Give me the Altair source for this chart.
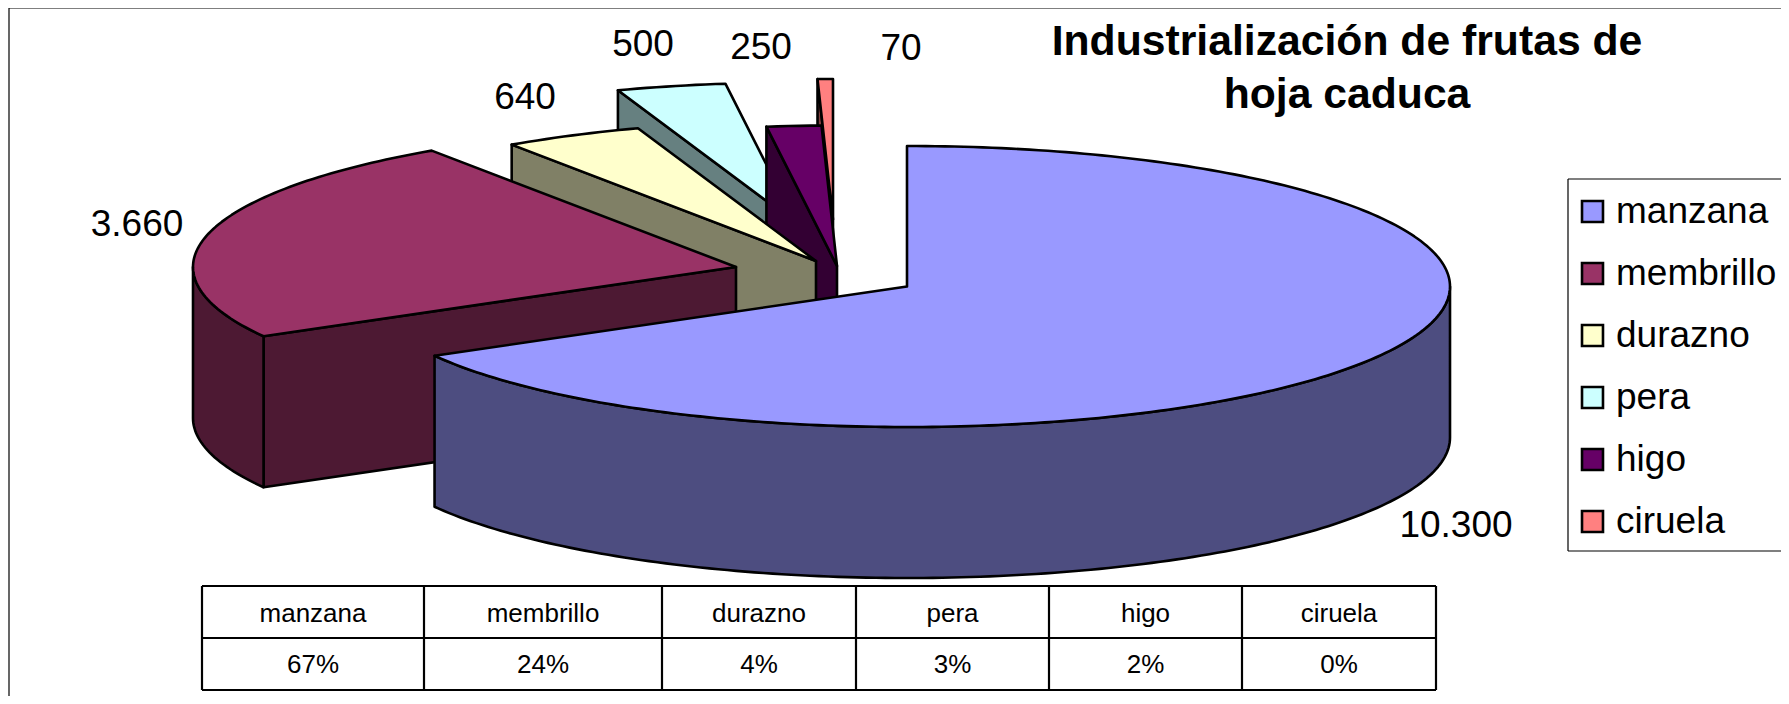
import math
import altair as alt

W, H = 1773, 688
OX, OY = 8, 8  # page margin

names = ["manzana", "membrillo", "durazno", "pera", "higo", "ciruela"]
values = [10300, 3660, 640, 500, 250, 70]
value_labels = ["10.300", "3.660", "640", "500", "250", "70"]
percent_labels = ["67%", "24%", "4%", "3%", "2%", "0%"]
top_colors = ["#9999FF", "#993366", "#FFFFCC", "#CCFFFF", "#660066", "#FF8080"]
wall_colors = ["#4D4D80", "#4D1933", "#808066", "#668080", "#330033", "#804040"]

# layout of the exploded pie (page pixels)
apex_x = [907, 736, 816, 796, 837, 833]
apex_y = [286.5, 267, 261, 223, 266, 219.5]
RX, RY, DEPTH = 543, 140.5, 151
draw_order = ["ciruela", "pera", "higo", "durazno", "membrillo", "manzana"]

label_x = [1456, 137, 525, 643, 761, 901]
label_y = [526, 225, 98, 44.5, 48, 49]

table_edges = [202, 424, 662, 856, 1049, 1242, 1436]
table_rows = [586, 638, 690]
table_text_y = [614, 665]

title_lines = ["Industrialización de frutas de", "hoja caduca"]
title_x = 1347
title_y = [42, 95]

total = sum(values)
spans = [v / total * 360 for v in values]
starts = [sum(spans[:i]) for i in range(len(spans))]


def pt(i, deg, drop=0):
    a = math.radians(deg)
    return [apex_x[i] - OX + RX * math.sin(a),
            apex_y[i] - OY - RY * math.cos(a) + drop]


def feature(key, ring):
    ring = ring + [ring[0]]
    return {"type": "Feature", "properties": {"key": key},
            "geometry": {"type": "Polygon", "coordinates": [ring]}}


def arc(i, a0, a1, drop=0):
    n = max(2, int(abs(a1 - a0)) + 1)
    return [pt(i, a0 + (a1 - a0) * k / (n - 1), drop) for k in range(n)]


features = []
for name in draw_order:
    i = names.index(name)
    a0, a1 = starts[i], starts[i] + spans[i]
    ax, ay = apex_x[i] - OX, apex_y[i] - OY
    # radial front wall on the starting edge (not for the first slice)
    if i > 0:
        p = pt(i, a0)
        features.append(feature(name + " lado", [
            [ax, ay], p, [p[0], p[1] + DEPTH], [ax, ay + DEPTH]]))
    # outer rim, visible on the lower half of the ellipse
    lo, hi = max(a0, 90), min(a1, 270)
    if lo < hi:
        features.append(feature(name + " lado",
                                arc(i, lo, hi) + arc(i, hi, lo, DEPTH)))
    features.append(feature(name, [[ax, ay]] + arc(i, a0, a1)))

domain = names + [n + " lado" for n in names]
colors = top_colors + wall_colors

pie = alt.Chart(alt.Data(values=features)).mark_geoshape(
    stroke="black", strokeWidth=2.6, strokeJoin="round"
).encode(
    color=alt.Color("properties.key:N",
                    scale=alt.Scale(domain=domain, range=colors),
                    legend=alt.Legend(
                        values=names, title=None, orient="none",
                        legendX=1574 - OX, legendY=193 - OY,
                        symbolType="square", symbolSize=440,
                        symbolStrokeColor="black", symbolStrokeWidth=2.6,
                        symbolOpacity=1,
                        labelFont="Liberation Sans", labelFontSize=37,
                        labelColor="black", labelOffset=5,
                        labelLimit=300, rowPadding=24, padding=0)),
).project(type="identity", scale=1, translate=[0, 0])

xs = alt.Scale(domain=[0, W], range=[0, W])
ys = alt.Scale(domain=[0, H], range=[0, H])
X = alt.X("x:Q", scale=xs, axis=None)
Y = alt.Y("y:Q", scale=ys, axis=None)


def rules(rows, width):
    return alt.Chart(alt.Data(values=rows)).mark_rule(
        color="black", strokeWidth=width
    ).encode(x=X, x2="x2:Q", y=Y, y2="y2:Q")


frame = rules([
    {"x": 1, "x2": 1, "y": 0, "y2": H},
    {"x": 1, "x2": W, "y": 0, "y2": 0},
], 1.2)

legend_box = rules([
    {"x": 1568 - OX, "x2": 1568 - OX, "y": 179 - OY, "y2": 551 - OY},
    {"x": 1568 - OX, "x2": W, "y": 179 - OY, "y2": 179 - OY},
    {"x": 1568 - OX, "x2": W, "y": 551 - OY, "y2": 551 - OY},
], 1.2)

table_lines = rules(
    [{"x": table_edges[0] - OX, "x2": table_edges[-1] - OX,
      "y": r - OY, "y2": r - OY} for r in table_rows]
    + [{"x": e - OX, "x2": e - OX, "y": table_rows[0] - OY,
        "y2": table_rows[-1] - OY} for e in table_edges], 2.2)

cell_rows = []
for i, name in enumerate(names):
    cx = (table_edges[i] + table_edges[i + 1]) / 2 - OX
    cell_rows.append({"x": cx, "y": table_text_y[0] - OY, "t": name})
    cell_rows.append({"x": cx, "y": table_text_y[1] - OY, "t": percent_labels[i]})

cells = alt.Chart(alt.Data(values=cell_rows)).mark_text(
    font="Liberation Sans", fontSize=26, color="black", baseline="middle"
).encode(x=X, y=Y, text="t:N")

value_text = alt.Chart(alt.Data(values=[
    {"x": label_x[i] - OX, "y": label_y[i] - OY, "t": value_labels[i]}
    for i in range(len(names))
])).mark_text(
    font="Liberation Sans", fontSize=37, color="black", baseline="middle"
).encode(x=X, y=Y, text="t:N")

title_text = alt.Chart(alt.Data(values=[
    {"x": title_x - OX, "y": title_y[k] - OY, "t": title_lines[k]}
    for k in range(2)
])).mark_text(
    font="Liberation Sans", fontSize=42.7, fontWeight="bold", color="black",
    baseline="middle"
).encode(x=X, y=Y, text="t:N")

chart = alt.layer(
    frame, legend_box, pie, table_lines, cells, value_text, title_text
).properties(
    width=W, height=H, padding=0,
    autosize=alt.AutoSizeParams(type="none"),
    background="white",
).configure_view(stroke=None)

chart.save("out.html", embed_options={"renderer": "svg", "actions": False})
